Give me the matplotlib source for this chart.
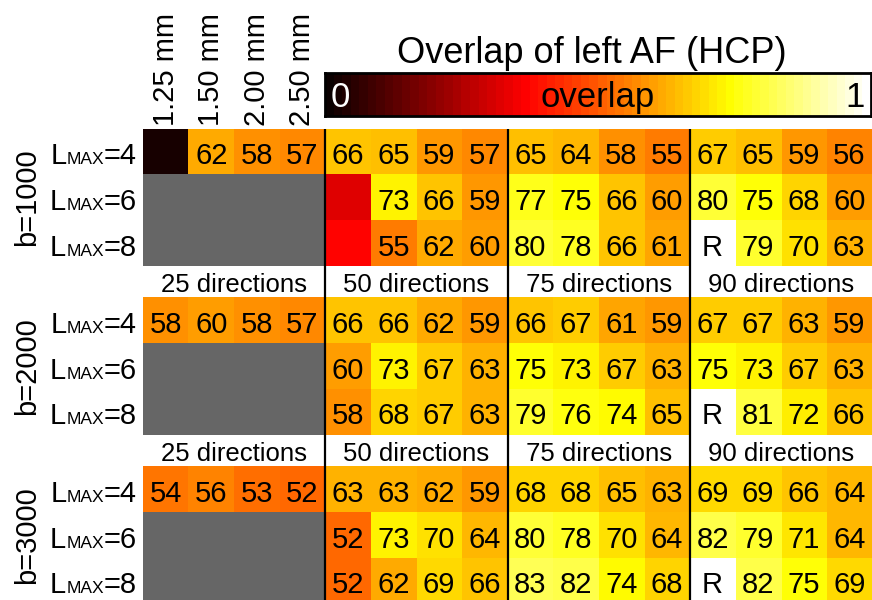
import numpy as np
import matplotlib
matplotlib.use('Agg')
import matplotlib.pyplot as plt
from matplotlib.transforms import offset_copy

plt.rcParams['font.family'] = ['Liberation Sans', 'DejaVu Sans']

# ---------------- data ----------------
resolutions = ['1.25 mm', '1.50 mm', '2.00 mm', '2.50 mm']
directions = ['25 directions', '50 directions', '75 directions', '90 directions']
lmax_values = ['4', '6', '8']
b_values = ['b=1000', 'b=2000', 'b=3000']
title = 'Overlap of left AF (HCP)'

N = np.nan
R = 100  # reference cell (shown as "R")

overlap_b1000 = [
    [2, 62, 58, 57, 66, 65, 59, 57, 65, 64, 58, 55, 67, 65, 59, 56],
    [N, N, N, N, 32, 73, 66, 59, 77, 75, 66, 60, 80, 75, 68, 60],
    [N, N, N, N, 37, 55, 62, 60, 80, 78, 66, 61, R, 79, 70, 63],
]
overlap_b2000 = [
    [58, 60, 58, 57, 66, 66, 62, 59, 66, 67, 61, 59, 67, 67, 63, 59],
    [N, N, N, N, 60, 73, 67, 63, 75, 73, 67, 63, 75, 73, 67, 63],
    [N, N, N, N, 58, 68, 67, 63, 79, 76, 74, 65, R, 81, 72, 66],
]
overlap_b3000 = [
    [54, 56, 53, 52, 63, 63, 62, 59, 68, 68, 65, 63, 69, 69, 66, 64],
    [N, N, N, N, 52, 73, 70, 64, 80, 78, 70, 64, 82, 79, 71, 64],
    [N, N, N, N, 52, 62, 69, 66, 83, 82, 74, 68, R, 82, 75, 69],
]
blocks = [overlap_b1000, overlap_b2000, overlap_b3000]
# cells drawn in colour but without a number: (block, row, column)
unlabeled = [(0, 0, 0), (0, 1, 4), (0, 2, 4)]

# ---------------- layout ----------------
W, H = 872, 600
fig = plt.figure(figsize=(W / 100, H / 100), dpi=100)
fig.patch.set_facecolor('white')

row_px = 45.67
grid_left, grid_top = 143, 129
ax = fig.add_axes([grid_left / W, 0, (W - grid_left) / W, (H - grid_top) / H])
ax.axis('off')

cmap = plt.get_cmap('hot').copy()
cmap.set_bad('#666666')

gap = 0.70
block_tops = [0, 3 + gap, 2 * (3 + gap)]
ncols = 16
cell_fs = 21

for bi, (block, top) in enumerate(zip(blocks, block_tops)):
    arr = np.ma.masked_invalid(np.array(block, dtype=float))
    ax.imshow(arr, cmap=cmap, vmin=0, vmax=100, extent=(0, ncols, top + 3, top),
              aspect='auto', interpolation='nearest')
    for i in range(3):
        for j in range(ncols):
            v = block[i][j]
            if np.isnan(v) or (bi, i, j) in unlabeled:
                continue
            lab = 'R' if v == R else '%d' % v
            ax.text(j + 0.5, top + i + 0.77, lab, ha='center', va='baseline',
                    fontsize=cell_fs, color='black')

# directions labels in the gaps
for top in block_tops[1:]:
    y = top - gap + 0.563
    for g, d in enumerate(directions):
        ax.text(4 * g + 2, y, d, ha='center', va='baseline', fontsize=18.5)

ymax = (H - grid_top) / row_px
ax.set_xlim(0, ncols)
ax.set_ylim(ymax, 0)

# vertical group separators
for x in (4, 8, 12):
    ax.plot([x, x], [0, ymax], color='black', lw=1.6, solid_capstyle='butt',
            clip_on=False)

# column (resolution) labels
for k, r in enumerate(resolutions):
    ax.text(k + 0.5, -0.066, r, rotation=90, ha='center', va='bottom',
            fontsize=cell_fs, clip_on=False)

# row labels  L_MAX=n  (small "MAX" on baseline)
fig.canvas.draw()
renderer = fig.canvas.get_renderer()
x_lab = (137 - grid_left) / (W - grid_left) * ncols
for top in block_tops:
    for i, lm in enumerate(lmax_values):
        y = top + i + 0.77
        t1 = ax.text(x_lab, y, '=' + lm, ha='right', va='baseline',
                     fontsize=cell_fs, clip_on=False)
        w1 = t1.get_window_extent(renderer).width
        t2 = ax.text(x_lab, y, 'MAX', ha='right', va='baseline', fontsize=12.5,
                     clip_on=False,
                     transform=offset_copy(ax.transData, fig=fig, x=-w1, units='dots'))
        w2 = t2.get_window_extent(renderer).width
        ax.text(x_lab, y, 'L', ha='right', va='baseline', fontsize=cell_fs,
                clip_on=False,
                transform=offset_copy(ax.transData, fig=fig, x=-(w1 + w2), units='dots'))

# b-value labels
x_b = (27 - grid_left) / (W - grid_left) * ncols
for top, b in zip(block_tops, b_values):
    ax.text(x_b, top + 1.5, b, rotation=90, ha='center', va='center',
            fontsize=cell_fs, clip_on=False)

# title
fig.text(591.5 / W, (H - 63) / H, title, ha='center', va='baseline', fontsize=26)

# colour bar
cb_l, cb_r, cb_t, cb_b = 325, 871, 73, 116
cax = fig.add_axes([cb_l / W, (H - cb_b) / H, (cb_r - cb_l) / W, (cb_b - cb_t) / H])
cax.imshow(np.linspace(0, 1, 64)[None, :], cmap='hot', vmin=0, vmax=1,
           aspect='auto', extent=(0, 1, 0, 1), interpolation='nearest')
cax.set_xlim(0, 1)
cax.set_ylim(0, 1)
cax.set_xticks([])
cax.set_yticks([])
for s in cax.spines.values():
    s.set_linewidth(2)
    s.set_color('black')
base = (cb_b - 107) / (cb_b - cb_t)
cax.text(0.011, base, '0', ha='left', va='baseline', fontsize=25, color='white',
         transform=cax.transAxes)
cax.text(0.5, base, 'overlap', ha='center', va='baseline', fontsize=25,
         color='black', transform=cax.transAxes)
cax.text(0.989, base, '1', ha='right', va='baseline', fontsize=25, color='black',
         transform=cax.transAxes)

fig.savefig('out.png', dpi=100, facecolor='white')
